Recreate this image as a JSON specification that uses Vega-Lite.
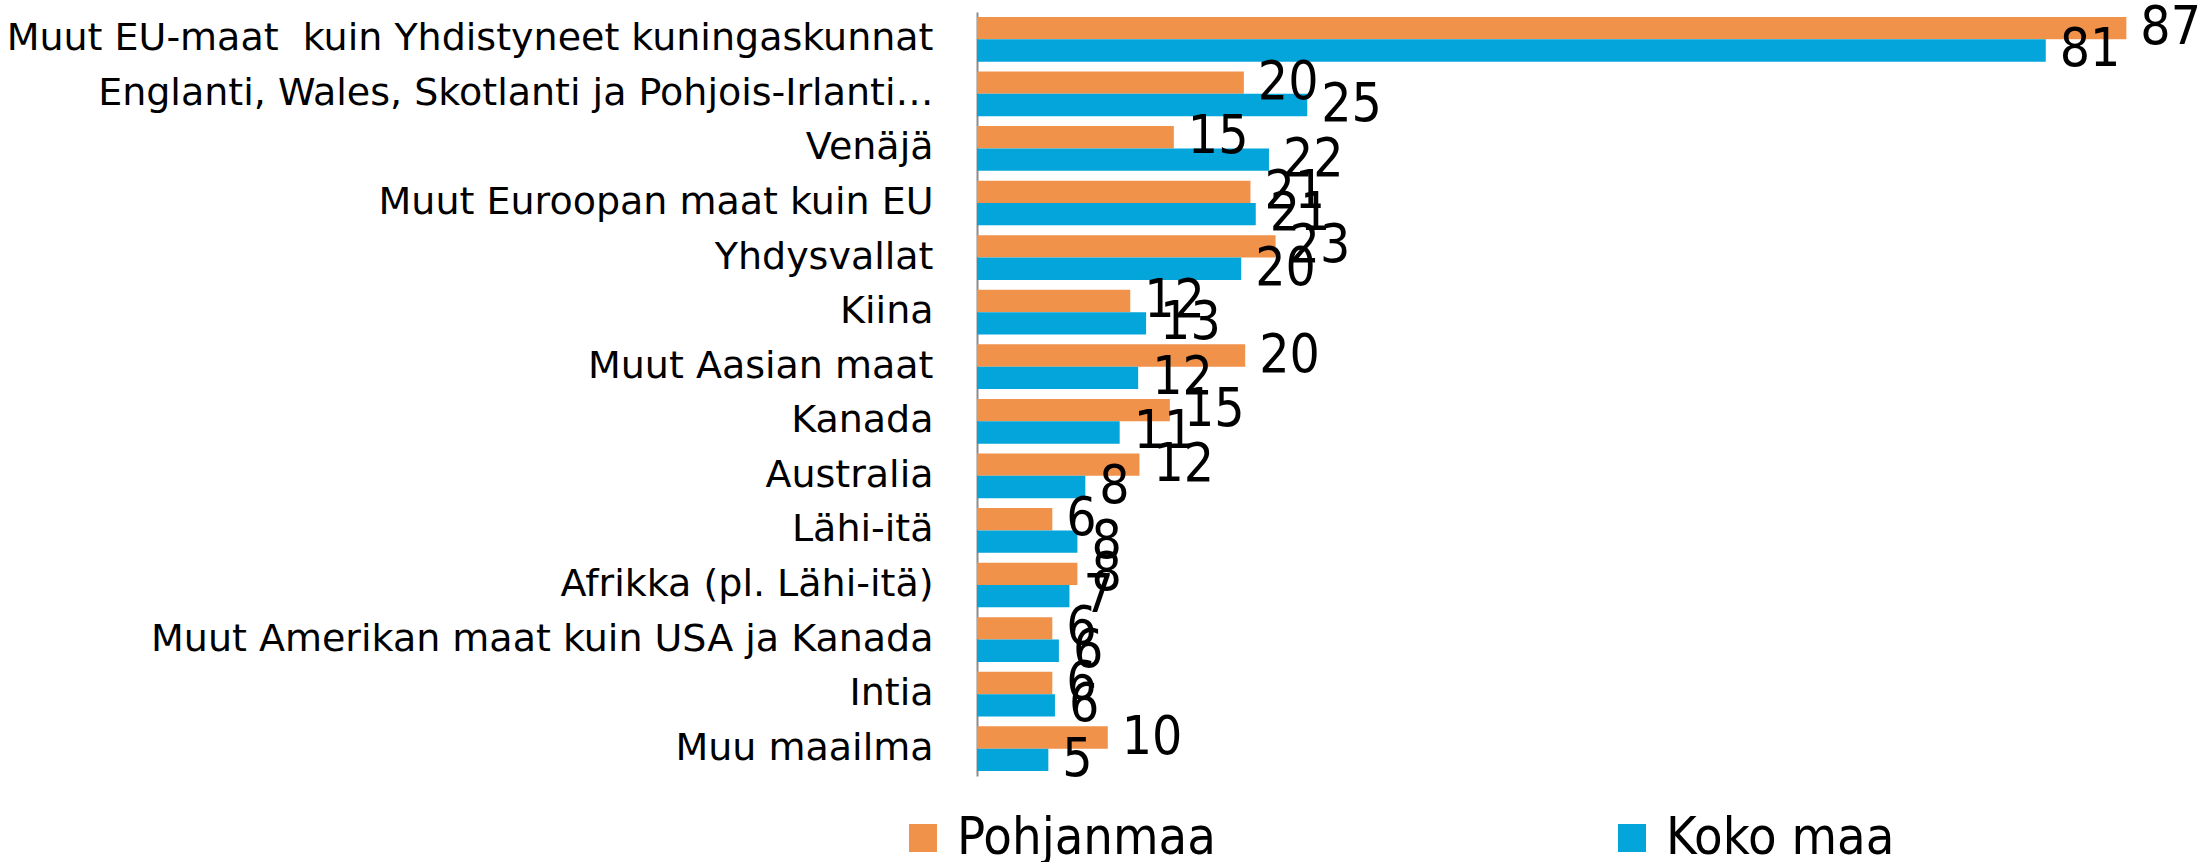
{
  "$schema": "https://vega.github.io/schema/vega-lite/v6.json",
  "width": 1189,
  "height": 764,
  "autosize": {"type": "none"},
  "padding": {"left": 977, "top": 12, "right": 44, "bottom": 86},
  "background": "white",
  "config": {"view": {"stroke": null}},
  "data": {
    "values": [
      {"maa": "Muut EU-maat\u00a0 kuin Yhdistyneet kuningaskunnat", "sarja": "Pohjanmaa", "arvo": 87.0},
      {"maa": "Muut EU-maat\u00a0 kuin Yhdistyneet kuningaskunnat", "sarja": "Koko maa", "arvo": 80.9},
      {"maa": "Englanti, Wales, Skotlanti ja Pohjois-Irlanti…", "sarja": "Pohjanmaa", "arvo": 20.2},
      {"maa": "Englanti, Wales, Skotlanti ja Pohjois-Irlanti…", "sarja": "Koko maa", "arvo": 25.0},
      {"maa": "Venäjä", "sarja": "Pohjanmaa", "arvo": 14.9},
      {"maa": "Venäjä", "sarja": "Koko maa", "arvo": 22.1},
      {"maa": "Muut Euroopan maat kuin EU", "sarja": "Pohjanmaa", "arvo": 20.7},
      {"maa": "Muut Euroopan maat kuin EU", "sarja": "Koko maa", "arvo": 21.1},
      {"maa": "Yhdysvallat", "sarja": "Pohjanmaa", "arvo": 22.6},
      {"maa": "Yhdysvallat", "sarja": "Koko maa", "arvo": 20.0},
      {"maa": "Kiina", "sarja": "Pohjanmaa", "arvo": 11.6},
      {"maa": "Kiina", "sarja": "Koko maa", "arvo": 12.8},
      {"maa": "Muut Aasian maat", "sarja": "Pohjanmaa", "arvo": 20.3},
      {"maa": "Muut Aasian maat", "sarja": "Koko maa", "arvo": 12.2},
      {"maa": "Kanada", "sarja": "Pohjanmaa", "arvo": 14.6},
      {"maa": "Kanada", "sarja": "Koko maa", "arvo": 10.8},
      {"maa": "Australia", "sarja": "Pohjanmaa", "arvo": 12.3},
      {"maa": "Australia", "sarja": "Koko maa", "arvo": 8.2},
      {"maa": "Lähi-itä", "sarja": "Pohjanmaa", "arvo": 5.7},
      {"maa": "Lähi-itä", "sarja": "Koko maa", "arvo": 7.6},
      {"maa": "Afrikka (pl. Lähi-itä)", "sarja": "Pohjanmaa", "arvo": 7.6},
      {"maa": "Afrikka (pl. Lähi-itä)", "sarja": "Koko maa", "arvo": 7.0},
      {"maa": "Muut Amerikan maat kuin USA ja Kanada", "sarja": "Pohjanmaa", "arvo": 5.7},
      {"maa": "Muut Amerikan maat kuin USA ja Kanada", "sarja": "Koko maa", "arvo": 6.2},
      {"maa": "Intia", "sarja": "Pohjanmaa", "arvo": 5.7},
      {"maa": "Intia", "sarja": "Koko maa", "arvo": 5.9},
      {"maa": "Muu maailma", "sarja": "Pohjanmaa", "arvo": 9.9},
      {"maa": "Muu maailma", "sarja": "Koko maa", "arvo": 5.4}
    ]
  },
  "encoding": {
    "y": {
      "field": "maa",
      "type": "nominal",
      "sort": null,
      "scale": {"paddingInner": 0.18, "paddingOuter": 0.09},
      "axis": {
        "title": null,
        "ticks": false,
        "grid": false,
        "labelFont": "DejaVu Sans",
        "labelFontSize": 38,
        "labelColor": "#000000",
        "labelPadding": 44,
        "labelLimit": 1200,
        "domainColor": "#8c8c8c",
        "domainWidth": 2
      }
    },
    "yOffset": {
      "field": "sarja",
      "type": "nominal",
      "sort": ["Pohjanmaa", "Koko maa"],
      "scale": {"paddingInner": 0, "paddingOuter": 0}
    },
    "x": {
      "field": "arvo",
      "type": "quantitative",
      "scale": {"domain": [0, 90], "nice": false, "zero": true},
      "axis": null
    }
  },
  "layer": [
    {
      "mark": {"type": "bar"},
      "encoding": {
        "color": {
          "field": "sarja",
          "type": "nominal",
          "sort": ["Pohjanmaa", "Koko maa"],
          "scale": {"domain": ["Pohjanmaa", "Koko maa"], "range": ["#F1924B", "#03A5DA"]},
          "legend": {
            "orient": "none",
            "legendX": -80,
            "legendY": 800,
            "direction": "horizontal",
            "columns": 2,
            "columnPadding": 390,
            "title": null,
            "padding": 0,
            "symbolType": "square",
            "symbolSize": 784,
            "symbolStrokeWidth": 0,
            "labelFont": "DejaVu Sans Condensed",
            "labelFontSize": 52,
            "labelOffset": 8,
            "labelColor": "#000000",
            "labelLimit": 600
          }
        }
      }
    },
    {
      "mark": {
        "type": "text",
        "align": "left",
        "baseline": "middle",
        "dx": 14,
        "font": "DejaVu Sans Condensed",
        "fontSize": 53,
        "color": "#000000"
      },
      "encoding": {
        "text": {"field": "arvo", "type": "quantitative", "format": ".0f"}
      }
    }
  ]
}
